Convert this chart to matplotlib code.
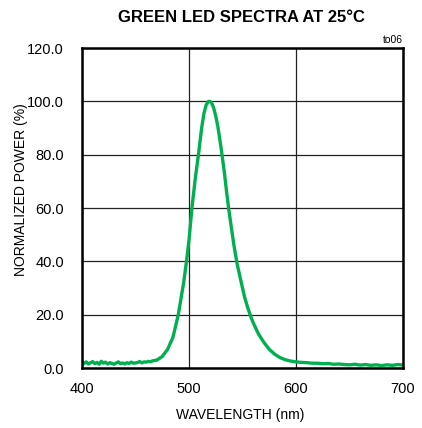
import numpy as np
import matplotlib
matplotlib.use("Agg")
import matplotlib.pyplot as plt

# spectrum (wavelength nm, normalized power %)
wl_base = [400, 402, 404, 406, 408, 410, 412, 414, 416, 418, 420, 422, 424, 426,
           428, 430, 432, 434, 436, 438, 440, 442, 444, 446, 448, 450, 452, 454,
           456, 458, 460, 462, 464, 466, 468]
pw_base = [2.6, 1.7, 2.3, 1.5, 2.0, 2.4, 1.6, 2.1, 1.4, 2.5, 1.8, 2.2, 1.5, 2.0,
           1.7, 1.4, 1.9, 2.3, 1.6, 1.9, 1.5, 2.0, 1.7, 2.2, 1.8, 1.9, 2.1, 2.4,
           1.9, 2.3, 2.2, 2.5, 2.3, 2.7, 2.8]
wl_peak = [470, 475, 480, 485, 490, 495, 498, 500, 503, 505, 506, 509, 510, 512,
           514, 516, 518, 519.5, 521, 523, 525, 527, 528.5, 530, 531, 533, 535,
           537, 540, 542, 545, 550, 552, 555, 558, 560, 563, 565, 570, 575, 580,
           585, 590, 595, 600]
pw_peak = [3.0, 4.3, 7.0, 11.5, 20.0, 32.0, 41.0, 48.0, 61.0, 68.0, 71.5, 80.5,
           84.0, 90.5, 95.5, 98.6, 99.9, 100.0, 99.5, 97.6, 94.5, 90.5, 86.5,
           82.5, 79.5, 73.5, 66.5, 60.0, 51.5, 46.0, 39.0, 30.0, 26.5, 22.5, 19.0,
           17.0, 14.4, 12.7, 9.6, 7.0, 5.2, 3.9, 3.1, 2.6, 2.3]
wl_tail = [605, 610, 615, 620, 625, 630, 635, 640, 645, 650, 655, 660, 665, 670,
           675, 680, 685, 690, 695, 700]
pw_tail = [2.1, 2.0, 1.8, 1.8, 1.6, 1.7, 1.4, 1.5, 1.3, 1.2, 1.4, 1.1, 1.3, 1.0,
           1.2, 0.9, 1.2, 1.0, 1.3, 1.1]

wavelength = wl_base + wl_peak + wl_tail
power = pw_base + pw_peak + pw_tail

xticks = [400, 500, 600, 700]
yticks = [0, 20, 40, 60, 80, 100, 120]

plt.rcParams['font.family'] = ['Liberation Sans', 'DejaVu Sans']

fig = plt.figure(figsize=(4.22, 4.28), dpi=100)
ax = fig.add_axes([82 / 422, 1 - 368 / 428, 321 / 422, 320 / 428])

ax.plot(wavelength, power, color='#00b050', lw=2.4, solid_joinstyle='round')

ax.set_xlim(400, 700)
ax.set_ylim(0, 120)
ax.set_xticks(xticks)
ax.set_yticks(yticks)
ax.set_yticklabels([f"{v:.1f}" for v in yticks])
ax.tick_params(length=0, labelsize=10.5, pad=13)
ax.tick_params(axis='x', pad=10)
ax.grid(True, color='#222222', lw=0.9)
ax.set_axisbelow(True)
for s in ax.spines.values():
    s.set_linewidth(1.8)
    s.set_color('black')

fig.text(0.571, 0.958, "GREEN LED SPECTRA AT 25°C", ha='center', va='center',
         fontsize=12, fontweight='bold')
fig.text(403 / 422, 1 - 40 / 428, "to06", ha='right', va='center', fontsize=7.5)
fig.text(0.050, 0.558, "NORMALIZED POWER (%)", rotation=90, ha='center',
         va='center', fontsize=10)
fig.text(0.569, 0.030, "WAVELENGTH (nm)", ha='center', va='center', fontsize=10)

fig.savefig("out.png", dpi=100)
